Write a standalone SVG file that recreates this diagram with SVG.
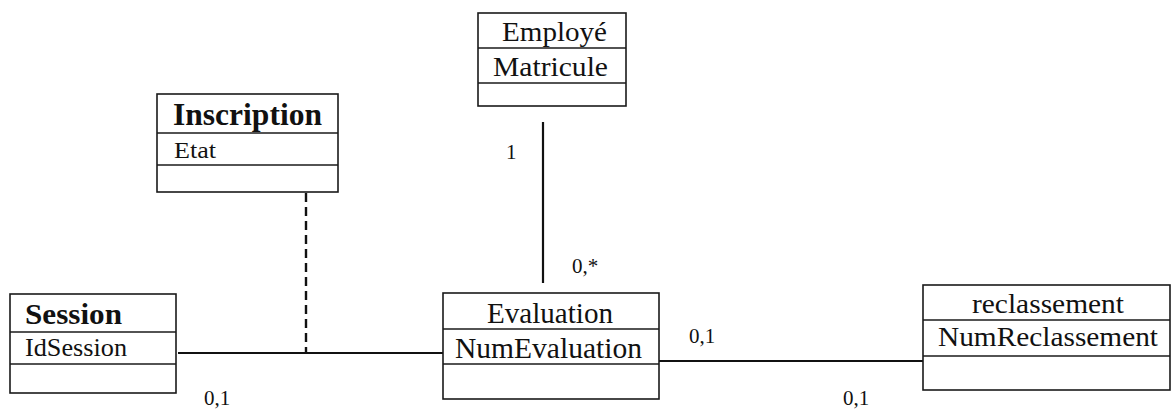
<svg xmlns="http://www.w3.org/2000/svg" width="1174" height="411" viewBox="0 0 1174 411">
  <style>
    .box { fill: #ffffff; stroke: #1a1a1a; stroke-width: 1.6; }
    .sep { stroke: #1a1a1a; stroke-width: 1.6; }
    .link { stroke: #111111; stroke-width: 2.2; fill: none; }
    .dash { stroke: #111111; stroke-width: 2.4; stroke-dasharray: 9 5; fill: none; }
    .t { font-family: "Liberation Serif", "Times New Roman", serif; fill: #111111; }
    .b { font-weight: bold; }
    .m { font-family: "Liberation Serif", "Times New Roman", serif; fill: #111111; font-size: 21px; }
  </style>
  <rect width="1174" height="411" fill="#ffffff"/>

  <!-- connectors -->
  <g id="connectors">
    <line class="link" x1="543" y1="122" x2="543" y2="283"/>
    <line class="link" x1="178" y1="353" x2="443" y2="353"/>
    <line class="dash" x1="306" y1="193" x2="306" y2="353"/>
    <line class="link" x1="659" y1="361" x2="923" y2="361"/>
    <text class="m" x="506" y="159">1</text>
    <text class="m" x="572" y="273">0,*</text>
    <text class="m" x="204" y="405">0,1</text>
    <text class="m" x="689" y="343">0,1</text>
    <text class="m" x="843" y="405">0,1</text>
  </g>

  <!-- Employé -->
  <g id="employe">
    <rect class="box" x="478" y="13" width="148" height="93"/>
    <line class="sep" x1="478" y1="48" x2="626" y2="48"/>
    <line class="sep" x1="478" y1="83" x2="626" y2="83"/>
    <text class="t" x="502" y="41" font-size="28" textLength="105" lengthAdjust="spacingAndGlyphs">Employé</text>
    <text class="t" x="493" y="76" font-size="28" textLength="115" lengthAdjust="spacingAndGlyphs">Matricule</text>
  </g>

  <!-- Inscription -->
  <g id="inscription">
    <rect class="box" x="157" y="94" width="181" height="98"/>
    <line class="sep" x1="157" y1="133" x2="338" y2="133"/>
    <line class="sep" x1="157" y1="165" x2="338" y2="165"/>
    <text class="t b" x="173" y="125" font-size="31" textLength="149" lengthAdjust="spacingAndGlyphs">Inscription</text>
    <text class="t" x="174" y="158" font-size="23" textLength="42" lengthAdjust="spacingAndGlyphs">Etat</text>
  </g>

  <!-- Session -->
  <g id="session">
    <rect class="box" x="10" y="294" width="166" height="99"/>
    <line class="sep" x1="10" y1="332" x2="176" y2="332"/>
    <line class="sep" x1="10" y1="364" x2="176" y2="364"/>
    <text class="t b" x="25" y="324" font-size="29" textLength="97" lengthAdjust="spacingAndGlyphs">Session</text>
    <text class="t" x="25" y="356" font-size="25" textLength="102" lengthAdjust="spacingAndGlyphs">IdSession</text>
  </g>

  <!-- Evaluation -->
  <g id="evaluation">
    <rect class="box" x="443" y="293" width="216" height="106"/>
    <line class="sep" x1="443" y1="329" x2="659" y2="329"/>
    <line class="sep" x1="443" y1="364" x2="659" y2="364"/>
    <text class="t" x="487" y="323" font-size="29" textLength="126" lengthAdjust="spacingAndGlyphs">Evaluation</text>
    <text class="t" x="455" y="358" font-size="29" textLength="187" lengthAdjust="spacingAndGlyphs">NumEvaluation</text>
  </g>

  <!-- reclassement -->
  <g id="reclassement">
    <rect class="box" x="923" y="285" width="247" height="105"/>
    <line class="sep" x1="923" y1="320" x2="1170" y2="320"/>
    <line class="sep" x1="923" y1="356" x2="1170" y2="356"/>
    <text class="t" x="972" y="313" font-size="28" textLength="152" lengthAdjust="spacingAndGlyphs">reclassement</text>
    <text class="t" x="938" y="346" font-size="28" textLength="220" lengthAdjust="spacingAndGlyphs">NumReclassement</text>
  </g>
</svg>
